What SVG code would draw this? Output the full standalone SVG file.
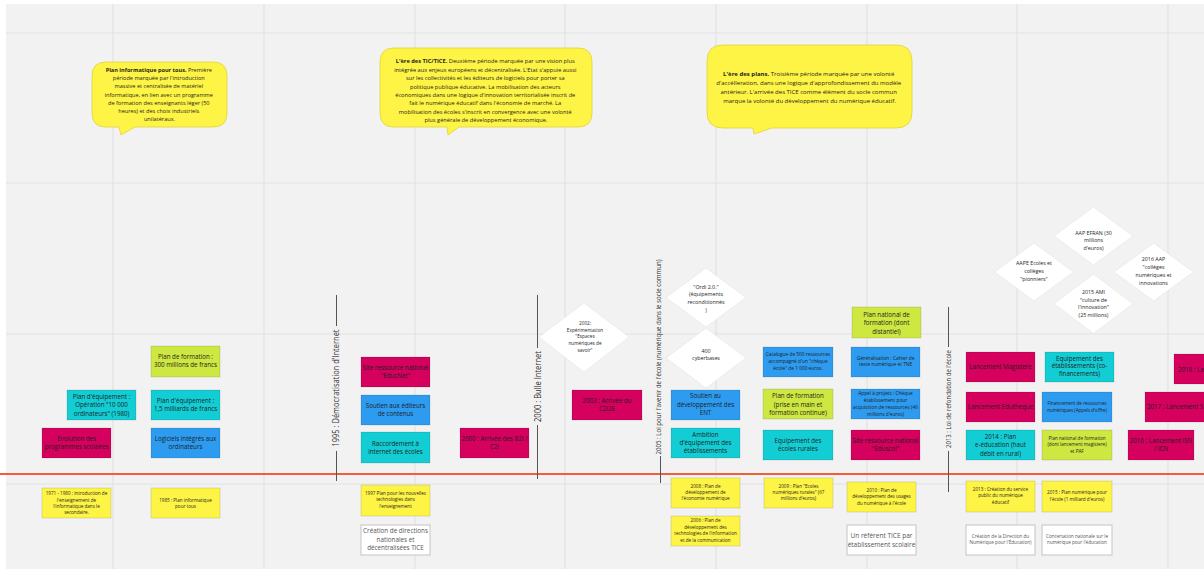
<svg xmlns="http://www.w3.org/2000/svg" width="1204" height="569" viewBox="0 0 1204 569">
<style>
.t{font-family:"Open Sans","Liberation Sans",sans-serif;text-anchor:middle;fill:#1e1e1e}
.tw{fill:#555}
.r{stroke:rgba(0,0,0,0.14);stroke-width:0.8}
.mg{fill:#d6005e}.cy{fill:#12cdd4}.bl{fill:#2d9bf0}.lg{fill:#cee741}.ye{fill:#fef445}
.wh{fill:#fff;stroke:#c4c4c4;stroke-width:1}
.dm{fill:#fff;stroke:#e4e4e4;stroke-width:0.6}
.bub{fill:#fef445;stroke:#e0d33a;stroke-width:0.8}
.grid{stroke:#e2e2e2;stroke-width:1.2}
.vl{stroke:#555;stroke-width:1}
.vt{font-family:"Open Sans","Liberation Sans",sans-serif;text-anchor:middle;fill:#333}
</style>
<rect x="0" y="0" width="1204" height="569" fill="#fff"/>
<rect x="6" y="4" width="1198" height="565" fill="#f2f2f2"/>
<g id="grid">
<line class="grid" x1="113" y1="4" x2="113" y2="569"/>
<line class="grid" x1="264" y1="4" x2="264" y2="569"/>
<line class="grid" x1="415" y1="4" x2="415" y2="569"/>
<line class="grid" x1="565" y1="4" x2="565" y2="569"/>
<line class="grid" x1="716" y1="4" x2="716" y2="569"/>
<line class="grid" x1="867" y1="4" x2="867" y2="569"/>
<line class="grid" x1="1017" y1="4" x2="1017" y2="569"/>
<line class="grid" x1="1168" y1="4" x2="1168" y2="569"/>
<line class="grid" x1="6" y1="33" x2="1204" y2="33"/>
<line class="grid" x1="6" y1="183" x2="1204" y2="183"/>
<line class="grid" x1="6" y1="334" x2="1204" y2="334"/>
<line class="grid" x1="6" y1="484" x2="1204" y2="484"/>
</g>

<g id="connectors">
<line x1="0" y1="474" x2="1204" y2="474" stroke="#f35d3f" stroke-width="2"/>
<line class="vl" x1="336.5" y1="295" x2="336.5" y2="326"/>
<line class="vl" x1="336.5" y1="451" x2="336.5" y2="481"/>
<line class="vl" x1="537.5" y1="295" x2="537.5" y2="348"/>
<line class="vl" x1="537.5" y1="425" x2="537.5" y2="479"/>
<line class="vl" x1="660.5" y1="456" x2="660.5" y2="483"/>
<line class="vl" x1="948.5" y1="307" x2="948.5" y2="347"/>
<line class="vl" x1="948.5" y1="451" x2="948.5" y2="492"/>
</g>

<g id="era-labels">
<text class="vt" font-size="9" textLength="117" lengthAdjust="spacingAndGlyphs" transform="translate(338.5,388) rotate(-90)">1995 : Démocratisation d'Internet</text>
<text class="vt" font-size="9" textLength="71" lengthAdjust="spacingAndGlyphs" transform="translate(540.5,386.5) rotate(-90)">2000 : Bulle Internet</text>
<text class="vt" font-size="7.5" textLength="195" lengthAdjust="spacingAndGlyphs" transform="translate(660.5,357) rotate(-90)">2005 : Loi pour l'avenir de l'école (numérique dans le socle commun)</text>
<text class="vt" font-size="7.5" textLength="98" lengthAdjust="spacingAndGlyphs" transform="translate(950.5,399) rotate(-90)">2013 : Loi de refondation de l'école</text>
</g>

<g id="callout1">
<path class="bub" d="M106 62 H213 Q227 62 227 76 V113 Q227 127 213 127 H135 L121 135 L119 127 H106 Q92 127 92 113 V76 Q92 62 106 62 Z"/>
<text class="t" font-size="5.6">
<tspan x="159.5" y="71.7"><tspan font-weight="bold">Plan informatique pour tous.</tspan> Première</tspan>
<tspan x="159.5" y="80">période marquée par l'introduction</tspan>
<tspan x="159.5" y="88.2">massive et centralisée de matériel</tspan>
<tspan x="159.5" y="96.5">informatique, en lien avec un programme</tspan>
<tspan x="159.5" y="104.8">de formation des enseignants léger (50</tspan>
<tspan x="159.5" y="113">heures) et des choix industriels</tspan>
<tspan x="159.5" y="121.3">unilatéraux.</tspan>
</text>
</g>

<g id="callout2">
<path class="bub" d="M394 48 H578 Q592 48 592 62 V113 Q592 127 578 127 H459 L448 135 L447 127 H394 Q380 127 380 113 V62 Q380 48 394 48 Z"/>
<text class="t" font-size="5.7">
<tspan x="486" y="63"><tspan font-weight="bold">L'ère des TIC/TICE.</tspan> Deuxième période marquée par une vision plus</tspan>
<tspan x="486" y="71.5">intégrée aux enjeux européens et décentralisée. L'Etat s'appuie aussi</tspan>
<tspan x="486" y="80">sur les collectivités et les éditeurs de logiciels pour porter sa</tspan>
<tspan x="486" y="88.5">politique publique éducative. La mobilisation des acteurs</tspan>
<tspan x="486" y="96.9">économiques dans une logique d'innovation territorialisée inscrit de</tspan>
<tspan x="486" y="105.4">fait le numérique éducatif dans l'économie de marché. La</tspan>
<tspan x="486" y="113.9">mobilisation des écoles s'inscrit en convergence avec une volonté</tspan>
<tspan x="486" y="122.3">plus générale de développement économique.</tspan>
</text>
</g>

<g id="callout3">
<path class="bub" d="M723 45 H896 Q912 45 912 61 V112 Q912 128 896 128 H772 L754 134 L753 128 H723 Q707 128 707 112 V61 Q707 45 723 45 Z"/>
<text class="t" font-size="6">
<tspan x="809.5" y="76.3"><tspan font-weight="bold">L'ère des plans.</tspan> Troisième période marquée par une volonté</tspan>
<tspan x="809.5" y="85.3">d'accélleration, dans une logique d'approfondissement du modèle</tspan>
<tspan x="809.5" y="94.3">antérieur. L'arrivée des TICE comme élément du socle commun</tspan>
<tspan x="809.5" y="103.2">marque la volonté du développement du numérique éducatif.</tspan>
</text>
</g>

<g id="n-formation-300"><rect class="lg r" x="151" y="346" width="69" height="31"/>
<text class="t" font-size="6.2"><tspan x="185.5" y="359">Plan de formation :</tspan><tspan x="185.5" y="367.3">300 millions de francs</tspan></text></g>
<g id="n-operation-10000"><rect class="cy r" x="67" y="390" width="69" height="30"/>
<text class="t" font-size="6.2"><tspan x="101.5" y="398.7">Plan d'équipement :</tspan><tspan x="101.5" y="407.2">Opération "10 000</tspan><tspan x="101.5" y="415.7">ordinateurs" (1980)</tspan></text></g>
<g id="n-equipement-15"><rect class="cy r" x="151" y="390" width="69" height="30"/>
<text class="t" font-size="6.2"><tspan x="185.5" y="403">Plan d'équipement :</tspan><tspan x="185.5" y="411.3">1,5 milliards de francs</tspan></text></g>
<g id="n-evolution"><rect class="mg r" x="42" y="428" width="69" height="30"/>
<text class="t" font-size="6.2"><tspan x="76.5" y="441">Evolution des</tspan><tspan x="76.5" y="449.3">programmes scolaires</tspan></text></g>
<g id="n-logiciels"><rect class="bl r" x="151" y="428" width="69" height="30"/>
<text class="t" font-size="6.2"><tspan x="185.5" y="441">Logiciels intégrés aux</tspan><tspan x="185.5" y="449.3">ordinateurs</tspan></text></g>
<g id="n-1971"><rect class="ye r" x="42" y="488" width="69" height="30"/>
<text class="t" font-size="4.6"><tspan x="76.5" y="495">1971 - 1980 : introduction de</tspan><tspan x="76.5" y="501.5">l'enseignement de</tspan><tspan x="76.5" y="508">l'informatique dans le</tspan><tspan x="76.5" y="514.3">secondaire.</tspan></text></g>
<g id="n-1985"><rect class="ye r" x="151" y="488" width="69" height="30"/>
<text class="t" font-size="4.6"><tspan x="185.5" y="501.6">1985 : Plan informatique</tspan><tspan x="185.5" y="508">pour tous</tspan></text></g>

<g id="n-educnet"><rect class="mg r" x="361" y="357" width="69" height="30"/>
<text class="t" font-size="6.2"><tspan x="395.5" y="369.7">Site ressource national</tspan><tspan x="395.5" y="378">"EducNet"</tspan></text></g>
<g id="n-soutien-editeurs"><rect class="bl r" x="361" y="395" width="69" height="30"/>
<text class="t" font-size="6.2"><tspan x="395.5" y="407.8">Soutien aux éditeurs</tspan><tspan x="395.5" y="416.1">de contenus</tspan></text></g>
<g id="n-raccordement"><rect class="cy r" x="361" y="432" width="69" height="31"/>
<text class="t" font-size="6.2"><tspan x="395.5" y="445.5">Raccordement à</tspan><tspan x="395.5" y="453.9">internet des écoles</tspan></text></g>
<g id="n-b2i"><rect class="mg r" x="460" y="428" width="69" height="30"/>
<text class="t" font-size="6.2"><tspan x="494.5" y="441">2000 : Arrivée des B2I /</tspan><tspan x="494.5" y="449.3">C2I</tspan></text></g>
<g id="n-1997"><rect class="ye r" x="361" y="485" width="69" height="31"/>
<text class="t" font-size="4.6"><tspan x="395.5" y="494.5">1997  Plan pour les nouvelles</tspan><tspan x="395.5" y="501">technologies dans</tspan><tspan x="395.5" y="507.5">l'enseignement</tspan></text></g>
<g id="n-directions"><rect class="wh" x="361" y="525" width="69" height="30"/>
<text class="t tw" font-size="6.3"><tspan x="395.5" y="533">Création de directions</tspan><tspan x="395.5" y="541.6">nationales et</tspan><tspan x="395.5" y="550.4">décentralisées TICE</tspan></text></g>

<g id="n-2002"><polygon class="dm" points="584,303 629,337 584,372 539,337"/>
<text class="t" font-size="4.7"><tspan x="585" y="325">2002:</tspan><tspan x="585" y="331.6">Expérimentation</tspan><tspan x="585" y="338.3">"Espaces</tspan><tspan x="585" y="344.9">numériques de</tspan><tspan x="585" y="351.5">savoir"</tspan></text></g>
<g id="n-ordi"><polygon class="dm" points="706,268 746,297.5 706,327 666,297.5"/>
<text class="t" font-size="5.3"><tspan x="706" y="288.6">"Ordi 2.0."</tspan><tspan x="706" y="296.3">(équipements</tspan><tspan x="706" y="304.1">reconditionnés</tspan><tspan x="706" y="311.8">)</tspan></text></g>
<g id="n-cyberbases"><polygon class="dm" points="706,328 746,358 706,388 666,358"/>
<text class="t" font-size="5.3"><tspan x="706" y="352.6">400</tspan><tspan x="706" y="360.2">cyberbases</tspan></text></g>
<g id="n-c2i2e"><rect class="mg r" x="572" y="390" width="70" height="30"/>
<text class="t" font-size="6.2"><tspan x="607" y="403">2003 : Arrivée du</tspan><tspan x="607" y="411.3">C2I2E</tspan></text></g>
<g id="n-ent"><rect class="bl r" x="671" y="390" width="69" height="30"/>
<text class="t" font-size="6.2"><tspan x="705.5" y="398.3">Soutien au</tspan><tspan x="705.5" y="406.6">développement des</tspan><tspan x="705.5" y="414.9">ENT</tspan></text></g>
<g id="n-ambition"><rect class="cy r" x="671" y="428" width="69" height="30"/>
<text class="t" font-size="6.2"><tspan x="705.5" y="436.6">Ambition</tspan><tspan x="705.5" y="444.9">d'équipement des</tspan><tspan x="705.5" y="453.2">établissements</tspan></text></g>
<g id="n-2008"><rect class="ye r" x="671" y="478" width="69" height="30"/>
<text class="t" font-size="4.6"><tspan x="705.5" y="487.7">2008 : Plan de</tspan><tspan x="705.5" y="494">développement de</tspan><tspan x="705.5" y="500.2">l'économie numérique</tspan></text></g>
<g id="n-2006"><rect class="ye r" x="671" y="516" width="69" height="30"/>
<text class="t" font-size="4.6"><tspan x="705.5" y="522.4">2006 : Plan de</tspan><tspan x="705.5" y="528.9">développement des</tspan><tspan x="705.5" y="535.4">technologies de l'information</tspan><tspan x="705.5" y="541.9">et de la communication</tspan></text></g>

<g id="n-catalogue"><rect class="bl r" x="763" y="347" width="70" height="30"/>
<text class="t" font-size="4.8"><tspan x="798" y="356.2">Catalogue de 500 ressources</tspan><tspan x="798" y="362.9">accompagné d'un "chèque</tspan><tspan x="798" y="369.6">école" de 1 000 euros.</tspan></text></g>
<g id="n-formation-prise"><rect class="lg r" x="763" y="389" width="70" height="30"/>
<text class="t" font-size="6.2"><tspan x="798" y="398.2">Plan de formation</tspan><tspan x="798" y="406.5">(prise en main et</tspan><tspan x="798" y="414.8">formation continue)</tspan></text></g>
<g id="n-ecoles-rurales"><rect class="cy r" x="763" y="430" width="70" height="30"/>
<text class="t" font-size="6.2"><tspan x="798" y="442.9">Equipement des</tspan><tspan x="798" y="451.2">écoles rurales</tspan></text></g>
<g id="n-2009"><rect class="ye r" x="764" y="478" width="69" height="30"/>
<text class="t" font-size="4.6"><tspan x="798.5" y="487.7">2009 : Plan "Ecoles</tspan><tspan x="798.5" y="494">numériques rurales" (67</tspan><tspan x="798.5" y="500.2">millions d'euros)</tspan></text></g>
<g id="n-pnf-distantiel"><rect class="lg r" x="852" y="307" width="69" height="31"/>
<text class="t" font-size="6.2"><tspan x="886.5" y="316.5">Plan national de</tspan><tspan x="886.5" y="325.2">formation (dont</tspan><tspan x="886.5" y="333.9">distantiel)</tspan></text></g>
<g id="n-generalisation"><rect class="bl r" x="851" y="347" width="69" height="30"/>
<text class="t" font-size="4.8"><tspan x="885.5" y="359.5">Généralisation : Cahier de</tspan><tspan x="885.5" y="366.1">texte numérique et TNE</tspan></text></g>
<g id="n-appel"><rect class="bl r" x="851" y="389" width="69" height="30"/>
<text class="t" font-size="4.8"><tspan x="885.5" y="395.1">Appel à projets : Chèque</tspan><tspan x="885.5" y="402">établissement pour</tspan><tspan x="885.5" y="408.9">acquisition de ressources (46</tspan><tspan x="885.5" y="415.7">millions d'euros)</tspan></text></g>
<g id="n-eduscol"><rect class="mg r" x="851" y="430" width="69" height="30"/>
<text class="t" font-size="6.2"><tspan x="885.5" y="442.9">Site ressource national</tspan><tspan x="885.5" y="451.2">"Eduscol"</tspan></text></g>
<g id="n-2010"><rect class="ye r" x="847" y="482" width="69" height="30"/>
<text class="t" font-size="4.6"><tspan x="881.5" y="491.8">2010 : Plan de</tspan><tspan x="881.5" y="498.2">développement des usages</tspan><tspan x="881.5" y="504.6">du numérique à l'école</tspan></text></g>
<g id="n-referent"><rect class="wh" x="847" y="525" width="69" height="30"/>
<text class="t tw" font-size="6.5"><tspan x="881.5" y="537.6">Un référent TICE par</tspan><tspan x="881.5" y="546.6">établissement scolaire</tspan></text></g>

<g id="n-aape"><polygon class="dm" points="1034,243 1073.5,272 1034,301 994.5,272"/>
<text class="t" font-size="5.3"><tspan x="1034" y="265.2">AAPE Ecoles et</tspan><tspan x="1034" y="272.9">collèges</tspan><tspan x="1034" y="280.6">"pionniers"</tspan></text></g>
<g id="n-efran"><polygon class="dm" points="1093.5,207 1133,236 1093.5,265 1054,236"/>
<text class="t" font-size="5.3"><tspan x="1093.5" y="234.6">AAP EFRAN (30</tspan><tspan x="1093.5" y="242.4">millions</tspan><tspan x="1093.5" y="250.2">d'euros)</tspan></text></g>
<g id="n-2016aap"><polygon class="dm" points="1153.7,243 1193.3,272 1153.7,301 1114,272"/>
<text class="t" font-size="5.3"><tspan x="1153.5" y="261.2">2016 AAP</tspan><tspan x="1153.5" y="269">"collèges</tspan><tspan x="1153.5" y="276.8">numériques et</tspan><tspan x="1153.5" y="284.6">innovations</tspan></text></g>
<g id="n-2015ami"><polygon class="dm" points="1093.5,274 1133,303.7 1093.5,333.4 1054,303.7"/>
<text class="t" font-size="5.3"><tspan x="1093.5" y="294.2">2015 AMI</tspan><tspan x="1093.5" y="301.8">"culture de</tspan><tspan x="1093.5" y="309.4">l'innovation"</tspan><tspan x="1093.5" y="317">(25 millions)</tspan></text></g>

<g id="n-magistere"><rect class="mg r" x="966" y="352" width="69" height="30"/>
<text class="t" font-size="6.2"><tspan x="1000.5" y="369">Lancement Magistere</tspan></text></g>
<g id="n-equip-etab"><rect class="cy r" x="1045" y="352" width="69" height="30"/>
<text class="t" font-size="6.2"><tspan x="1079.5" y="360.5">Equipement des</tspan><tspan x="1079.5" y="368.4">établissements (co-</tspan><tspan x="1079.5" y="376.3">financements)</tspan></text></g>
<g id="n-2018"><rect class="mg r" x="1174" y="354" width="69" height="30"/>
<text class="t" font-size="6.2" style="text-anchor:start"><tspan x="1178" y="371.5">2018 : La</tspan></text></g>
<g id="n-edutheque"><rect class="mg r" x="966" y="392" width="69" height="30"/>
<text class="t" font-size="6.2"><tspan x="1000.5" y="409.4">Lancement Edutheque</tspan></text></g>
<g id="n-financement"><rect class="bl r" x="1042" y="392" width="70" height="30"/>
<text class="t" font-size="4.6"><tspan x="1077" y="405">Financement de ressources</tspan><tspan x="1077" y="412.3">numériques (Appels d'offre)</tspan></text></g>
<g id="n-2017"><rect class="mg r" x="1145" y="392" width="69" height="30"/>
<text class="t" font-size="6.2" style="text-anchor:start"><tspan x="1147" y="409.4">2017 : Lancement S</tspan></text></g>
<g id="n-2014"><rect class="cy r" x="966" y="430" width="69" height="30"/>
<text class="t" font-size="6.2"><tspan x="1000.5" y="438.9">2014 : Plan</tspan><tspan x="1000.5" y="447.2">e-éducation (haut</tspan><tspan x="1000.5" y="455.5">débit en rural)</tspan></text></g>
<g id="n-pnf-magistere"><rect class="lg r" x="1042" y="430" width="70" height="30"/>
<text class="t" font-size="4.6"><tspan x="1077" y="439.9">Plan national de formation</tspan><tspan x="1077" y="446.3">(dont lancement magistere)</tspan><tspan x="1077" y="452.7">et PAF</tspan></text></g>
<g id="n-2016isn"><rect class="mg r" x="1128" y="430" width="66" height="30"/>
<text class="t" font-size="6.2"><tspan x="1161" y="442.9">2016 : Lancement ISN</tspan><tspan x="1161" y="451.2">/ ICN</tspan></text></g>
<g id="n-2013"><rect class="ye r" x="966" y="481" width="69" height="31"/>
<text class="t" font-size="4.6"><tspan x="1000.5" y="490.9">2013 : Création du service</tspan><tspan x="1000.5" y="497.3">public du numérique</tspan><tspan x="1000.5" y="503.8">éducatif</tspan></text></g>
<g id="n-2015"><rect class="ye r" x="1042" y="481" width="70" height="31"/>
<text class="t" font-size="4.6"><tspan x="1077" y="494.3">2015 : Plan numérique pour</tspan><tspan x="1077" y="500.9">l'école (1 milliard d'euros)</tspan></text></g>
<g id="n-direction"><rect class="wh" x="966" y="525" width="69" height="30"/>
<text class="t tw" font-size="4.6"><tspan x="1000.5" y="538.3">Création de la Direction du</tspan><tspan x="1000.5" y="544.4">Numérique pour l'Éducation)</tspan></text></g>
<g id="n-concertation"><rect class="wh" x="1042" y="525" width="70" height="30"/>
<text class="t tw" font-size="4.6"><tspan x="1077" y="538.3">Concertation nationale sur le</tspan><tspan x="1077" y="544.4">numérique pour l'éducation</tspan></text></g>
</svg>
